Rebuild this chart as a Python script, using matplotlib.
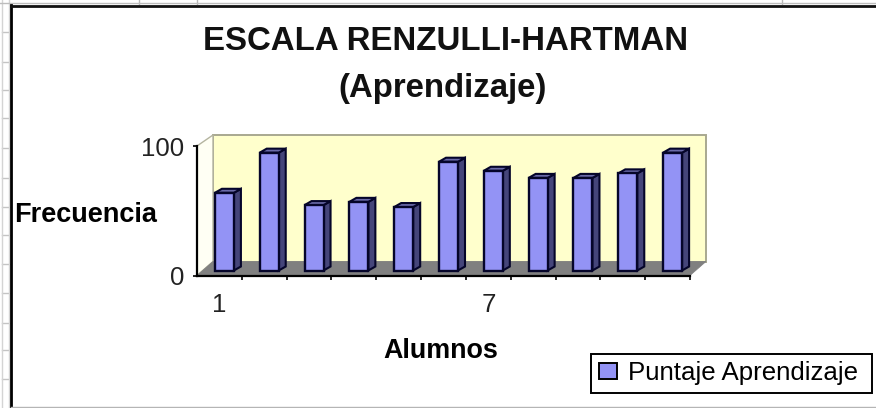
import matplotlib
matplotlib.use('Agg')
import matplotlib.pyplot as plt
from matplotlib.patches import Patch, Polygon

plt.rcParams['font.family'] = ['Liberation Sans', 'DejaVu Sans']

alumnos = list(range(1, 12))
puntaje = [60, 91, 50.5, 53, 49, 84, 77, 71.5, 71.5, 75, 91]
tick_pos = [1, 7]
tick_labels = ['1', '7']
value_ticks = [0, 100]
FRONT = '#9393f5'
SIDE = '#45457a'
TOP = '#6a6aa8'
WALL = '#ffffcc'
FLOOR = '#808080'

W, H = 876, 408
# axis size in pixels, used to turn the 3d depth into data units
AX_L, AX_R, AX_T, AX_B = 197, 690, 146, 275.5
ux = (AX_R - AX_L) / 11.0
uy = (AX_B - AX_T) / 100.0
depth_x = 16 / ux
depth_y = 14 / uy
top_y = 100 + 11 / uy
bar_w = 19 / ux
bar_dx = 5 / ux
bar_dy = 5 / uy
side_x = 7 / ux
side_y = 4 / uy

fig = plt.figure(figsize=(W / 100, H / 100), dpi=100)
fig.patch.set_facecolor('white')


def px_line(xs, ys, **kw):
    fig.add_artist(plt.Line2D([x / W for x in xs], [1 - y / H for y in ys],
                              transform=fig.transFigure, **kw))


# spreadsheet behind the chart
for y in [32, 62, 90, 118, 148, 178, 207, 235, 264, 293, 323, 350, 379]:
    px_line([2, 10], [y, y], color='#c4c4c4', lw=1)
for x in [2, 9]:
    px_line([x, x], [0, H], color='#d4d4d4', lw=1)
for x in [139, 197, 782]:
    px_line([x, x], [0, 4], color='#b8b8b8', lw=1)
px_line([0, W], [3, 3], color='#bdbdbd', lw=1)
px_line([11, 11], [5, H], color='black', lw=2)
px_line([11, W], [5.5, 5.5], color='#111111', lw=2)
px_line([11, W], [407, 407], color='#b5b5b5', lw=1)

ax = fig.add_axes([AX_L / W, 1 - AX_B / H, (AX_R - AX_L) / W, (AX_B - AX_T) / H])
ax.set_xlim(0.5, 11.5)
ax.set_ylim(0, 100)
ax.patch.set_alpha(0)

x0, x1 = 0.5, 11.5
ax.add_patch(Polygon([(x0 + depth_x, depth_y), (x1 + depth_x, depth_y),
                      (x1 + depth_x, top_y), (x0 + depth_x, top_y)],
                     fc=WALL, ec='#a8a890', lw=1.4, clip_on=False, zorder=1))
ax.add_patch(Polygon([(x0, 0), (x0 + depth_x, depth_y), (x0 + depth_x, top_y), (x0, 100)],
                     fc='#fffff4', ec='#b4b4a0', lw=1, clip_on=False, zorder=1))
ax.add_patch(Polygon([(x0, 0), (x0 + depth_x, depth_y), (x1 + depth_x, depth_y), (x1, 0)],
                     fc=FLOOR, ec=FLOOR, lw=0.5, clip_on=False, zorder=2))

# front faces
xs = [a + bar_dx for a in alumnos]
ax.bar(xs, puntaje, width=bar_w, bottom=bar_dy, color=FRONT, edgecolor='#05052a',
       linewidth=1.7, zorder=4, clip_on=False)
# side and top faces
for x, v in zip(xs, puntaje):
    l = x - bar_w / 2
    r = x + bar_w / 2
    t = v + bar_dy
    ax.add_patch(Polygon([(r, bar_dy), (r + side_x, bar_dy + side_y), (r + side_x, t + side_y), (r, t)],
                         fc=SIDE, ec='#05052a', lw=1.5, clip_on=False, zorder=3))
    ax.add_patch(Polygon([(l, t), (l + side_x, t + side_y), (r + side_x, t + side_y), (r, t)],
                         fc=TOP, ec='#05052a', lw=1.5, clip_on=False, zorder=3))

for s in ['top', 'right']:
    ax.spines[s].set_visible(False)
for s in ['left', 'bottom']:
    ax.spines[s].set_linewidth(1.6)
    ax.spines[s].set_zorder(5)

ax.set_yticks(value_ticks)
ax.set_yticklabels([str(v) for v in value_ticks], fontsize=18.5, color='#222222')
ax.tick_params(axis='y', length=3, width=1.2, pad=6, color='black')
ax.set_xticks([a + 0.5 for a in alumnos])
ax.set_xticklabels([])
ax.tick_params(axis='x', length=3, width=1.2)
for p, lab in zip(tick_pos, tick_labels):
    ax.annotate(lab, (p, 0), xytext=(0, -29), textcoords='offset pixels',
                ha='center', va='center', fontsize=18.5, color='#222222', annotation_clip=False)

fig.text(446 / W, 1 - 42 / H, 'ESCALA RENZULLI-HARTMAN', ha='center', va='center',
         fontsize=23.8, fontweight='bold', color='#111111')
fig.text(443 / W, 1 - 88.5 / H, '(Aprendizaje)', ha='center', va='center',
         fontsize=23.7, fontweight='bold', color='#111111')
fig.text(86 / W, 1 - 215 / H, 'Frecuencia', ha='center', va='center',
         fontsize=19.5, fontweight='bold')
fig.text(441 / W, 1 - 351 / H, 'Alumnos', ha='center', va='center',
         fontsize=19.4, fontweight='bold')

leg = fig.legend(handles=[Patch(fc=FRONT, ec='black', lw=1.4, label='Puntaje Aprendizaje')],
                 loc='lower left', bbox_to_anchor=(591 / W, 1 - 393 / H, 281 / W, 41 / H),
                 mode='expand', borderaxespad=0, fontsize=18.6, fancybox=False,
                 framealpha=1, edgecolor='black', handlelength=0.72, handleheight=0.55,
                 handletextpad=0.4, borderpad=0.3)
leg.get_frame().set_linewidth(1.4)

fig.savefig('out.png', dpi=100)
